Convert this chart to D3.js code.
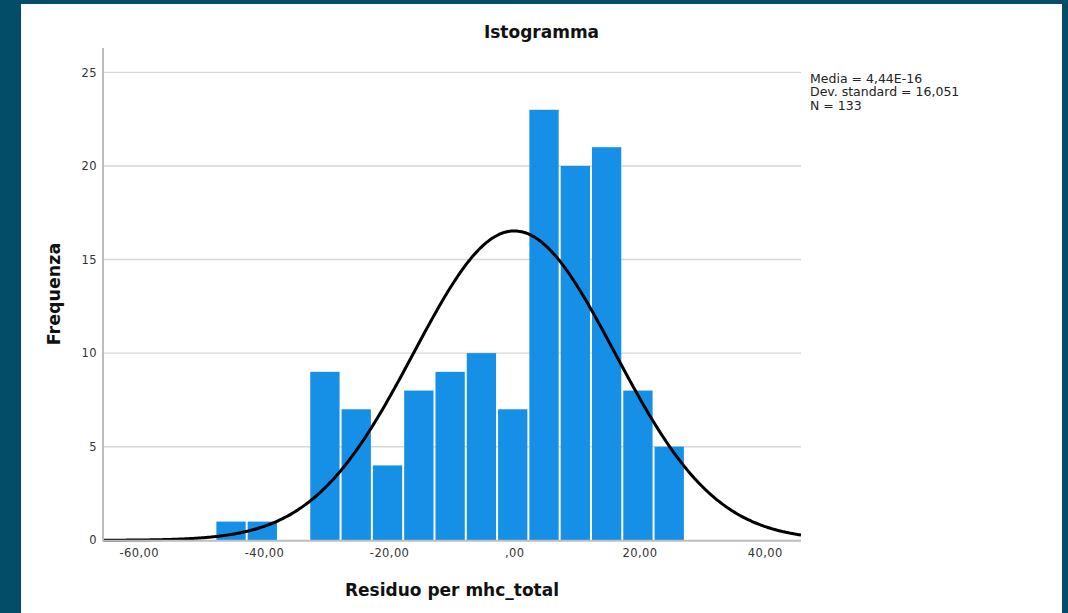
<!DOCTYPE html>
<html><head><meta charset="utf-8">
<script src="https://cdn.jsdelivr.net/npm/d3@7"></script>
<style>
html,body{margin:0;padding:0;background:#034d68;}
svg{display:block;}
</style></head>
<body>
<svg id="chart" width="1068" height="613"></svg>
<script>
// ---- data ----
const binStart = -47.75;
const binWidth = 5;
const counts = [1, 1, 0, 9, 7, 4, 8, 9, 10, 7, 23, 20, 21, 8, 5];
const xTicks = [-60, -40, -20, 0, 20, 40];
const xTickLabels = ["-60,00", "-40,00", "-20,00", ",00", "20,00", "40,00"];
const yTicks = [0, 5, 10, 15, 20, 25];
const statsLines = ["Media = 4,44E-16", "Dev. standard = 16,051", "N = 133"];
const mean = 4.44e-16, sd = 16.051, N = 133;
const xDomain = [-65.7, 45.8];
const yDomain = [0, 26.3];

const svg = d3.select("#chart");
svg.append("rect").attr("x", 21).attr("y", 4).attr("width", 1041).attr("height", 609).attr("fill", "#fff");

const x = d3.scaleLinear().domain(xDomain).range([103, 801]);
const y = d3.scaleLinear().domain(yDomain).range([540.3, 48]);

// gridlines
svg.append("g").selectAll("line").data(yTicks.filter(d => d > 0)).join("line")
  .attr("x1", x(xDomain[0])).attr("x2", x(xDomain[1]))
  .attr("y1", d => y(d)).attr("y2", d => y(d))
  .attr("stroke", "#d6d6d6").attr("stroke-width", 1.4);

// bars
const bins = counts.map((c, i) => ({x0: binStart + i * binWidth, x1: binStart + (i + 1) * binWidth, c}));
svg.append("g").selectAll("rect").data(bins.filter(b => b.c > 0)).join("rect")
  .attr("x", b => x(b.x0) + 1)
  .attr("width", b => x(b.x1) - x(b.x0) - 2)
  .attr("y", b => y(b.c))
  .attr("height", b => y(0) - y(b.c))
  .attr("fill", "#1590e6");

// normal curve from reported statistics
const scaleK = N * binWidth / (sd * Math.sqrt(2 * Math.PI));
const curvePts = d3.range(0, 401).map(i => {
  const v = xDomain[0] + (xDomain[1] - xDomain[0]) * i / 400;
  return [v, scaleK * Math.exp(-0.5 * ((v - mean) / sd) ** 2)];
});
svg.append("path").datum(curvePts)
  .attr("d", d3.line().x(d => x(d[0])).y(d => y(d[1])).curve(d3.curveBasis))
  .attr("fill", "none").attr("stroke", "#000").attr("stroke-width", 3);

// axes lines
svg.append("line").attr("x1", 103).attr("x2", 103).attr("y1", y(yDomain[1])).attr("y2", y(0) + 1)
  .attr("stroke", "#bdbdbd").attr("stroke-width", 2);
svg.append("line").attr("x1", 103).attr("x2", x(xDomain[1])).attr("y1", y(0) + 0.5).attr("y2", y(0) + 0.5)
  .attr("stroke", "#bdbdbd").attr("stroke-width", 2);

// y axis labels
const yAxis = d3.axisLeft(y).tickValues(yTicks).tickSize(0).tickPadding(5).tickFormat(d3.format("d"));
const gy = svg.append("g").attr("transform", "translate(102,0)").call(yAxis);
gy.select(".domain").remove();
gy.selectAll("text").attr("font-family", "DejaVu Sans, sans-serif").attr("font-size", 11.5)
  .attr("letter-spacing", 0.4).attr("fill", "#333");

// x axis labels
const xAxis = d3.axisBottom(x).tickValues(xTicks).tickSize(0).tickPadding(9).tickFormat((d, i) => xTickLabels[i]);
const gx = svg.append("g").attr("transform", `translate(0,${y(0)})`).call(xAxis);
gx.select(".domain").remove();
gx.selectAll("text").attr("font-family", "DejaVu Sans, sans-serif").attr("font-size", 11.5)
  .attr("letter-spacing", 0.4).attr("fill", "#333");

// titles
svg.append("text").attr("x", 541.5).attr("y", 38).attr("text-anchor", "middle")
  .attr("font-family", "DejaVu Sans, sans-serif").attr("font-weight", "bold").attr("font-size", 17)
  .attr("fill", "#111").text("Istogramma");
svg.append("text").attr("x", 452).attr("y", 596).attr("text-anchor", "middle")
  .attr("font-family", "DejaVu Sans, sans-serif").attr("font-weight", "bold").attr("font-size", 17)
  .attr("fill", "#111").text("Residuo per mhc_total");
svg.append("text").attr("transform", "translate(60,294) rotate(-90)").attr("text-anchor", "middle")
  .attr("font-family", "DejaVu Sans, sans-serif").attr("font-weight", "bold").attr("font-size", 17.5)
  .attr("fill", "#111").text("Frequenza");

// stats
svg.append("g").selectAll("text").data(statsLines).join("text")
  .attr("x", 810).attr("y", (d, i) => 83 + i * 13.3)
  .attr("font-family", "DejaVu Sans, sans-serif").attr("font-size", 12.5).attr("fill", "#222")
  .text(d => d);
</script>
</body></html>
